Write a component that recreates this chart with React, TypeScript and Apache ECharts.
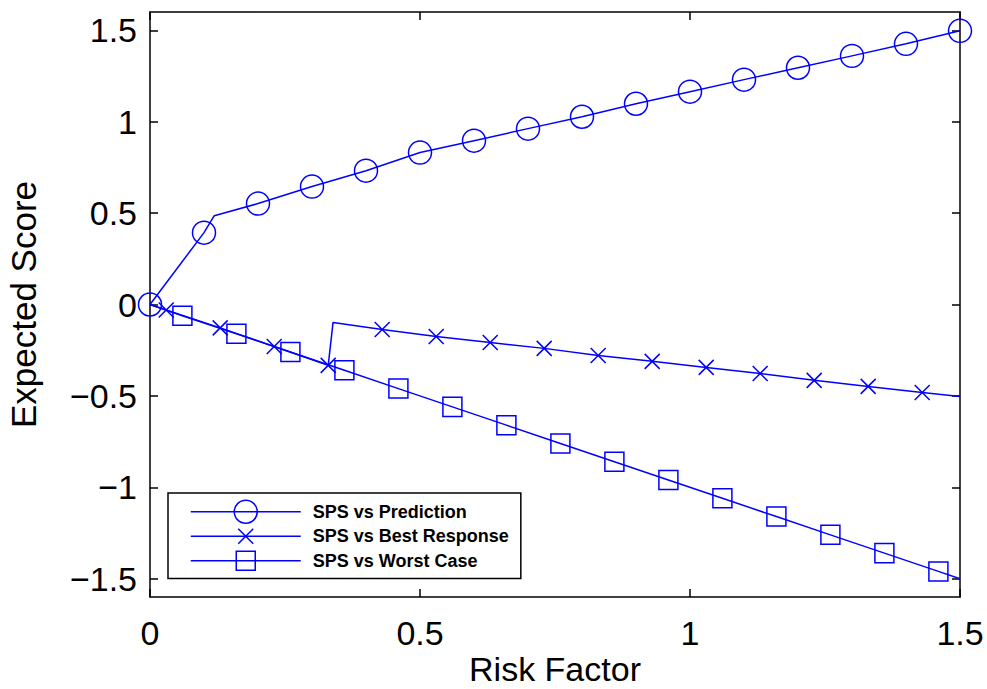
import React, { useEffect, useRef } from 'react';
import * as echarts from 'echarts';

// ---- Data ----
const predictionX = [0, 0.1, 0.119, 0.2, 0.3, 0.4, 0.5, 0.6, 0.7, 0.8, 0.9, 1.0, 1.1, 1.2, 1.3, 1.4, 1.5];
const predictionY = [0, 0.393, 0.486, 0.552, 0.645, 0.732, 0.831, 0.896, 0.962, 1.027, 1.098, 1.164, 1.23, 1.295, 1.36, 1.426, 1.497];
const predictionMarker = [1, 1, 0, 1, 1, 1, 1, 1, 1, 1, 1, 1, 1, 1, 1, 1, 1];

const bestX = [0, 0.03, 0.13, 0.23, 0.33, 0.339, 0.43, 0.53, 0.63, 0.73, 0.83, 0.93, 1.03, 1.13, 1.23, 1.33, 1.43, 1.5];
const bestY = [0, -0.03, -0.128, -0.23, -0.333, -0.098, -0.137, -0.175, -0.208, -0.24, -0.279, -0.311, -0.344, -0.377, -0.415, -0.448, -0.481, -0.503];
const bestMarker = [0, 1, 1, 1, 1, 0, 1, 1, 1, 1, 1, 1, 1, 1, 1, 1, 1, 0];

const worstX = [0, 0.06, 0.16, 0.26, 0.36, 0.46, 0.56, 0.66, 0.76, 0.86, 0.96, 1.06, 1.16, 1.26, 1.36, 1.46, 1.5];
const worstY = [0, -0.062, -0.16, -0.26, -0.36, -0.46, -0.56, -0.66, -0.76, -0.86, -0.96, -1.06, -1.16, -1.26, -1.36, -1.46, -1.5];
const worstMarker = [0, 1, 1, 1, 1, 1, 1, 1, 1, 1, 1, 1, 1, 1, 1, 1, 0];

const seriesNames = ['SPS vs Prediction', 'SPS vs Best Response', 'SPS vs Worst Case'];
const xTicks = [0, 0.5, 1, 1.5];
const yTicks = [-1.5, -1, -0.5, 0, 0.5, 1, 1.5];

const FONT = 'Liberation Sans, Arial, Helvetica, sans-serif';
const BLUE = '#0000ff';

const circleSym = 'path://M0,0M24,24M0.5,12A11.5,11.5,0,1,0,23.5,12A11.5,11.5,0,1,0,0.5,12Z';
const crossSym = 'path://M0,0M24,24M4.5,4.5L19.5,19.5M19.5,4.5L4.5,19.5';
const squareSym = 'path://M0,0M24,24M2.5,2.5L21.5,2.5L21.5,21.5L2.5,21.5Z';

function build(xs: number[], ys: number[], marks: number[]) {
  return xs.map((x, i) => (marks[i] ? { value: [x, ys[i]] } : { value: [x, ys[i]], symbol: 'none' }));
}

const fmt = (v: number) => (v < 0 ? '\u2212' + String(-v) : String(v));

export default function App() {
  const ref = useRef<HTMLDivElement>(null);
  useEffect(() => {
    if (!ref.current) return;
    const chart = echarts.init(ref.current, undefined, { renderer: 'svg' });
    const axisLine = { show: true, onZero: false, lineStyle: { color: '#000', width: 1.5 } };
    const axisTickX = { show: true, inside: true, length: 8, lineStyle: { color: '#000', width: 1.5 } };
    const axisTickY = { ...axisTickX, customValues: yTicks };
    const mkSeries = (name: string, data: any[], symbol: string) => ({
      name,
      type: 'line',
      data,
      symbol,
      symbolSize: 24,
      showSymbol: true,
      showAllSymbol: true,
      clip: false,
      lineStyle: { color: BLUE, width: 1.5 },
      itemStyle: { color: 'rgba(0,0,0,0)', borderColor: BLUE, borderWidth: 1.5 },
      emphasis: { disabled: true },
    });
    chart.setOption({
      animation: false,
      backgroundColor: '#fff',
      grid: { left: 150, top: 12, right: 27, bottom: 92, containLabel: false, outerBoundsMode: 'none' },
      xAxis: [
        {
          type: 'value', min: 0, max: 1.5, interval: 0.5, position: 'bottom',
          axisLine, axisTick: axisTickX, splitLine: { show: false },
          axisLabel: { color: '#000', fontSize: 34, fontFamily: FONT, margin: 19, formatter: fmt, customValues: xTicks },
          name: 'Risk Factor', nameLocation: 'middle', nameGap: 58, nameMoveOverlap: false,
          nameTextStyle: { color: '#000', fontSize: 34, lineHeight: 28, fontFamily: FONT },
        },
        {
          type: 'value', min: 0, max: 1.5, interval: 0.5, position: 'top',
          axisLine, axisTick: axisTickX, splitLine: { show: false }, axisLabel: { show: false },
        },
      ],
      yAxis: [
        {
          type: 'value', min: -1.6, max: 1.6, position: 'left',
          axisLine, axisTick: axisTickY, splitLine: { show: false },
          axisLabel: { color: '#000', fontSize: 34, fontFamily: FONT, margin: 13, formatter: fmt, customValues: yTicks },
          name: 'Expected Score', nameLocation: 'middle', nameGap: 109,
          nameTextStyle: { color: '#000', fontSize: 35, fontFamily: FONT },
        },
        {
          type: 'value', min: -1.6, max: 1.6, position: 'right',
          axisLine, axisTick: axisTickY, splitLine: { show: false }, axisLabel: { show: false },
        },
      ],
      legend: {
        show: true,
        orient: 'vertical',
        left: 168,
        top: 493,
        itemWidth: 110,
        itemHeight: 30,
        itemGap: -1,
        padding: [6, 12, 5, 22],
        borderColor: '#000',
        borderWidth: 1.5,
        backgroundColor: '#fff',
        data: seriesNames,
        selectedMode: false,
        itemStyle: { color: 'rgba(0,0,0,0)', borderColor: BLUE, borderWidth: 1.5 },
        lineStyle: { color: BLUE, width: 1.5 },
        textStyle: { color: '#000', fontSize: 18, fontWeight: 'bold', fontFamily: FONT, padding: [0, 0, 0, 7] },
      },
      series: [
        mkSeries(seriesNames[0], build(predictionX, predictionY, predictionMarker), circleSym),
        mkSeries(seriesNames[1], build(bestX, bestY, bestMarker), crossSym),
        mkSeries(seriesNames[2], build(worstX, worstY, worstMarker), squareSym),
      ],
    });
    return () => chart.dispose();
  }, []);
  return <div ref={ref} style={{ position: 'fixed', left: 0, top: 0, width: 987, height: 689 }} />;
}
